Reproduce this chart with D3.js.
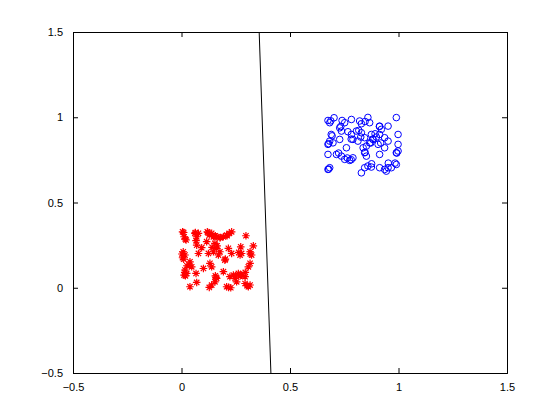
<!DOCTYPE html>
<html>
<head>
<meta charset="utf-8">
<script src="https://cdn.jsdelivr.net/npm/d3@7"></script>
<style>
  body { margin: 0; background: #fff; }
  svg { display: block; font-family: "Liberation Sans", Arial, sans-serif; }
</style>
</head>
<body>
<div id="chart"></div>
<script>
// class 1 : red stars (x, y)
const redX = [0.005, 0.012, 0.021, 0.062, 0.070, 0.078, 0.119, 0.128, 0.139, 0.147,
              0.162, 0.177, 0.193, 0.208, 0.220, 0.231, 0.297, 0.070, 0.116, 0.154,
              0.093, 0.273, 0.331, 0.216, 0.231, 0.316, 0.323, 0.008, 0.016, 0.005,
              0.078, 0.124, 0.147, 0.162, 0.177, 0.170, 0.200, 0.270, 0.277, 0.039,
              0.036, 0.131, 0.139, 0.101, 0.316, 0.308, 0.016, 0.024, 0.012, 0.067,
              0.193, 0.239, 0.262, 0.277, 0.223, 0.247, 0.254, 0.293, 0.162, 0.154,
              0.139, 0.128, 0.039, 0.070, 0.208, 0.227, 0.293, 0.308, 0.316, 0.047,
              0.010, 0.018, 0.002, 0.010, 0.064, 0.067, 0.122, 0.025, 0.015, 0.018,
              0.141, 0.156, 0.156, 0.179, 0.210, 0.164, 0.264, 0.317, 0.248, 0.271,
              0.294, 0.159, 0.302, 0.217, 0.202];
const redY = [0.328, 0.299, 0.280, 0.319, 0.299, 0.319, 0.328, 0.309, 0.319, 0.299,
              0.299, 0.293, 0.299, 0.309, 0.319, 0.328, 0.305, 0.250, 0.270, 0.260,
              0.235, 0.240, 0.246, 0.231, 0.201, 0.211, 0.192, 0.211, 0.192, 0.176,
              0.201, 0.201, 0.211, 0.231, 0.211, 0.192, 0.162, 0.192, 0.201, 0.152,
              0.133, 0.143, 0.123, 0.113, 0.143, 0.123, 0.104, 0.084, 0.074, 0.084,
              0.094, 0.074, 0.084, 0.074, 0.065, 0.055, 0.035, 0.065, 0.055, 0.035,
              0.016, 0.002, 0.006, 0.031, 0.006, 0.000, 0.025, 0.006, 0.016, 0.123,
              0.324, 0.285, 0.198, 0.168, 0.324, 0.276, 0.324, 0.129, 0.090, 0.070,
              0.237, 0.070, 0.305, 0.295, 0.305, 0.246, 0.207, 0.198, 0.070, 0.070,
              0.090, 0.061, 0.012, 0.002, 0.168];

// class 2 : blue circles (x, y)
const blueX = [0.675, 0.683, 0.703, 0.740, 0.752, 0.783, 0.821, 0.829, 0.859, 0.867,
               0.913, 0.921, 0.952, 0.990, 0.729, 0.737, 0.767, 0.783, 0.806, 0.829,
               0.844, 0.875, 0.883, 0.898, 0.913, 0.936, 0.952, 0.998, 0.690, 0.683,
               0.675, 0.698, 0.729, 0.790, 0.813, 0.852, 0.867, 0.906, 0.936, 0.998,
               0.675, 0.714, 0.737, 0.752, 0.775, 0.790, 0.844, 0.852, 0.913, 0.990,
               0.998, 0.675, 0.683, 0.844, 0.859, 0.875, 0.913, 0.936, 0.952, 0.967,
               0.990, 0.829, 0.944, 0.760, 0.837,
               0.688, 0.734, 0.694, 0.678, 0.782, 0.724, 0.764, 0.782, 0.678, 0.817,
               0.826, 0.846, 0.912, 0.892, 0.881, 0.872, 0.846, 0.918, 0.992, 0.876,
               0.953, 0.984];
const blueY = [0.981, 0.968, 0.997, 0.981, 0.968, 0.987, 0.978, 0.962, 0.999, 0.968,
               0.948, 0.929, 0.948, 0.998, 0.938, 0.919, 0.915, 0.899, 0.919, 0.909,
               0.880, 0.899, 0.870, 0.884, 0.899, 0.880, 0.860, 0.899, 0.899, 0.860,
               0.841, 0.850, 0.870, 0.870, 0.860, 0.831, 0.850, 0.841, 0.821, 0.841,
               0.782, 0.782, 0.772, 0.753, 0.747, 0.762, 0.792, 0.772, 0.782, 0.792,
               0.802, 0.694, 0.704, 0.704, 0.714, 0.708, 0.704, 0.694, 0.704, 0.704,
               0.723, 0.674, 0.684, 0.821, 0.821,
               0.979, 0.946, 0.891, 0.845, 0.872, 0.790, 0.761, 0.751, 0.696, 0.923,
               0.884, 0.975, 0.946, 0.903, 0.872, 0.849, 0.794, 0.849, 0.790, 0.727,
               0.731, 0.731];

// separating line, end points
const lineX = [0.358, 0.412];
const lineY = [1.5, -0.5];

const xTicks = [-0.5, 0, 0.5, 1, 1.5];
const yTicks = [-0.5, 0, 0.5, 1, 1.5];

const width = 560, height = 420;
const margin = { top: 32, right: 53, bottom: 47, left: 73 };

const svg = d3.select("#chart").append("svg")
    .attr("width", width)
    .attr("height", height);

const x = d3.scaleLinear().domain([-0.5, 1.5]).range([margin.left, width - margin.right]);
const y = d3.scaleLinear().domain([-0.5, 1.5]).range([height - margin.bottom, margin.top]);

// axes (ticks inside, box all round)
const fmt = d => d3.format("")(d).replace("-", "\u2212");
svg.append("g")
    .attr("transform", `translate(0,${y(-0.5)})`)
    .call(d3.axisBottom(x).tickValues(xTicks).tickSize(-5).tickPadding(10).tickFormat(fmt));
svg.append("g")
    .attr("transform", `translate(0,${y(1.5)})`)
    .call(d3.axisTop(x).tickValues(xTicks).tickSize(-5).tickFormat(""));
svg.append("g")
    .attr("transform", `translate(${x(-0.5)},0)`)
    .call(d3.axisLeft(y).tickValues(yTicks).tickSize(-5).tickPadding(10).tickFormat(fmt));
svg.append("g")
    .attr("transform", `translate(${x(1.5)},0)`)
    .call(d3.axisRight(y).tickValues(yTicks).tickSize(-5).tickFormat(""));

svg.selectAll(".domain").attr("stroke", "#000").attr("stroke-width", 1);
svg.selectAll(".tick line").attr("stroke", "#000");
svg.selectAll(".tick text").attr("fill", "#000").style("font-size", "11px")
    .style("font-family", "'Liberation Sans', Arial, sans-serif");

// the line
svg.append("line")
    .attr("x1", x(lineX[0])).attr("y1", y(lineY[0]))
    .attr("x2", x(lineX[1])).attr("y2", y(lineY[1]))
    .attr("stroke", "#000").attr("stroke-width", 1);

// stars (+ and x together, like the matlab marker)
const r = 3.8, a = r * 0.7071;
const starPath = `M${-r},0L${r},0M0,${-r}L0,${r}M${-a},${-a}L${a},${a}M${-a},${a}L${a},${-a}`;
svg.append("g").selectAll("path")
    .data(d3.range(redX.length))
    .join("path")
    .attr("d", starPath)
    .attr("transform", i => `translate(${x(redX[i])},${y(redY[i])})`)
    .attr("fill", "none")
    .attr("stroke", "#ff0000")
    .attr("stroke-width", 1.2);

// circles
svg.append("g").selectAll("circle")
    .data(d3.range(blueX.length))
    .join("circle")
    .attr("cx", i => x(blueX[i]))
    .attr("cy", i => y(blueY[i]))
    .attr("r", 3.3)
    .attr("fill", "none")
    .attr("stroke", "#0000ff")
    .attr("stroke-width", 1);
</script>
</body>
</html>
